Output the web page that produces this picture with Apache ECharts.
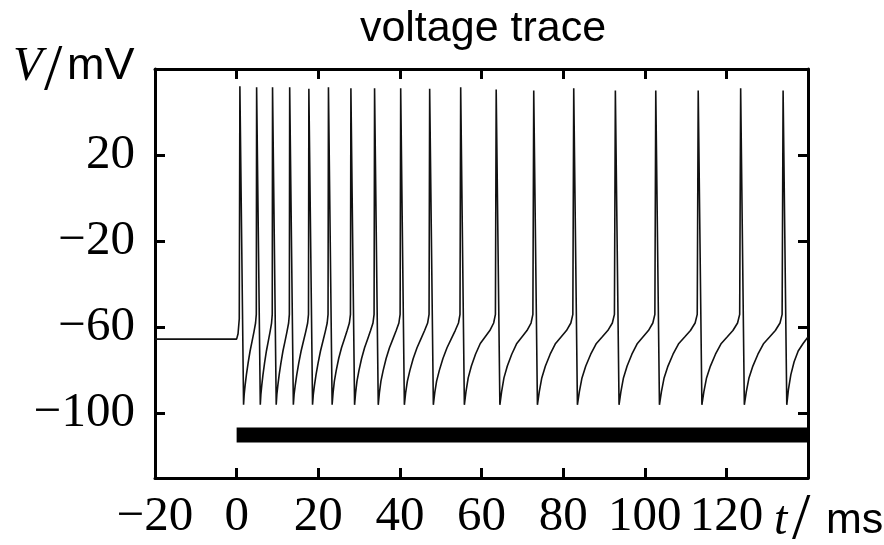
<!DOCTYPE html>
<html>
<head>
<meta charset="utf-8">
<script src="https://cdn.jsdelivr.net/npm/echarts@6/dist/echarts.min.js"></script>
<style>
html,body{margin:0;padding:0;background:#fff;}
#chart{width:884px;height:545px;}
</style>
</head>
<body>
<div id="chart"></div>
<script>
// time (ms) of each sampled point of the voltage trace
var time = [
  -20, 0, 0.35, 0.65,
  0.8, 1.7, 1.86, 2.08, 2.40, 2.82, 3.30, 3.78, 4.26, 4.64, 4.82,
  4.9, 5.8, 5.95, 6.16, 6.46, 6.85, 7.30, 7.75, 8.20, 8.56, 8.73,
  8.8, 9.7, 9.87, 10.10, 10.43, 10.86, 11.35, 11.85, 12.34, 12.74, 12.92,
  13.0, 13.9, 14.09, 14.36, 14.74, 15.23, 15.80, 16.37, 16.94, 17.40, 17.61,
  17.7, 18.6, 18.80, 19.07, 19.46, 19.97, 20.55, 21.14, 21.72, 22.19, 22.40,
  22.5, 23.4, 23.63, 23.95, 24.41, 25.01, 25.70, 26.39, 27.08, 27.63, 27.89,
  28.0, 28.9, 29.15, 29.49, 29.98, 30.62, 31.35, 32.09, 32.82, 33.41, 33.68,
  33.8, 34.7, 34.98, 35.36, 35.91, 36.63, 37.45, 38.28, 39.10, 39.76, 40.06,
  40.2, 41.1, 41.41, 41.84, 42.46, 43.27, 44.20, 45.13, 46.06, 46.80, 47.15,
  47.3, 48.2, 48.54, 49.00, 49.67, 50.55, 51.55, 52.56, 53.56, 54.36, 54.73,
  54.9, 55.8, 56.19, 56.74, 57.52, 58.53, 59.70, 60.87, 62.04, 62.98, 63.41,
  63.6, 64.5, 64.92, 65.50, 66.33, 67.41, 68.65, 69.90, 71.14, 72.14, 72.59,
  72.8, 73.7, 74.15, 74.77, 75.66, 76.82, 78.15, 79.49, 80.82, 81.89, 82.38,
  82.6, 83.5, 83.97, 84.62, 85.55, 86.76, 88.15, 89.55, 90.94, 92.06, 92.57,
  92.8, 93.7, 94.15, 94.78, 95.68, 96.85, 98.20, 99.55, 100.90, 101.98, 102.48,
  102.7, 103.6, 104.08, 104.74, 105.69, 106.93, 108.35, 109.78, 111.20, 112.34, 112.86,
  113.1, 114.0, 114.48, 115.14, 116.09, 117.33, 118.75, 120.18, 121.60, 122.74, 123.26,
  123.5, 124.4, 124.88, 125.54, 126.49, 127.73, 129.15, 130.58, 132.00, 133.14, 133.66,
  133.9, 134.8, 135.2, 135.8, 136.6, 137.6, 138.8, 140
];
// membrane voltage (mV) at each time above
var voltage = [
  -65.5, -65.5, -63, -56,
  52,   -96, -91, -87, -82, -76.5, -71, -66.5, -62, -58, -54,
  51.5, -96, -91, -87, -82, -76.5, -71, -66.5, -62, -58, -54,
  51.5, -96, -91, -87, -82, -76.5, -71, -66.5, -62, -58, -54,
  51.5, -96, -91, -87, -82, -76.5, -71, -66.5, -62, -58, -54,
  50.8, -96, -91, -87, -82, -76.5, -71, -66.5, -62, -58, -54,
  51.5, -96, -90.5, -85, -80, -74.5, -69.5, -65.5, -61.5, -58, -54,
  51,   -96, -90.5, -85, -80, -74.5, -69.5, -65.5, -61.5, -58, -54,
  51,   -96, -90.5, -85, -80, -74.5, -69.5, -65.5, -61.5, -58, -54,
  51,   -96, -90.5, -85, -80, -74.5, -69.5, -65.5, -61.5, -58, -54,
  50.8, -96, -90.5, -85, -80, -74.5, -69.5, -65.5, -61.5, -58, -54,
  51.5, -96, -90, -83.5, -78, -72.5, -67.5, -64.5, -61.5, -58, -54,
  50.5, -96, -90, -83.5, -78, -72.5, -67.5, -64.5, -61.5, -58, -54,
  50,   -96, -90, -83.5, -78, -72.5, -67.5, -64.5, -61.5, -58, -54,
  51,   -96, -90, -83.5, -78, -72.5, -67.5, -64.5, -61.5, -58, -54,
  50,   -96, -90, -83.5, -78, -72.5, -67.5, -64.5, -61.5, -58, -54,
  50,   -96, -90, -83.5, -78, -72.5, -67.5, -64.5, -61.5, -58, -54,
  50,   -96, -90, -83.5, -78, -72.5, -67.5, -64.5, -61.5, -58, -54,
  51,   -96, -90, -83.5, -78, -72.5, -67.5, -64.5, -61.5, -58, -54,
  50,   -96, -89, -82, -76, -71, -67.5, -64.5
];
// stimulus bar (current step) start/end time and drawing level
var stimulusTime = [0, 140];
var stimulusLevel = [-110, -110];
// axis ticks
var xTicks = [-20, 0, 20, 40, 60, 80, 100, 120];
var yTicks = [-100, -60, -20, 20];

var traceData = time.map(function (t, i) { return [t, voltage[i]]; });
var stimData = stimulusTime.map(function (t, i) { return [t, stimulusLevel[i]]; });

function fmt(v) { return v < 0 ? '\u2212' + (-v) : String(v); }

var serif = 'Liberation Serif';
var sans = 'Liberation Sans';
var lineCol = '#000';

var chart = echarts.init(document.getElementById('chart'), null, {renderer: 'canvas'});
chart.setOption({
  animation: false,
  backgroundColor: '#fff',
  title: {
    text: 'voltage trace',
    left: 483, top: 8, textAlign: 'center', padding: 0,
    textStyle: {fontFamily: sans, fontSize: 43, fontWeight: 'normal', color: '#000'}
  },
  grid: {left: 155, right: 76, top: 69, bottom: 67, containLabel: false},
  xAxis: [{
    type: 'value', min: -20, max: 140, interval: 20, position: 'bottom',
    axisLine: {show: true, onZero: false, lineStyle: {color: lineCol, width: 3}},
    axisTick: {show: true, inside: true, length: 10, lineStyle: {color: lineCol, width: 3}},
    axisLabel: {
      show: true, margin: 15, color: '#000', fontFamily: serif, fontSize: 49,
      showMaxLabel: false,
      formatter: function (v) { return xTicks.indexOf(v) >= 0 ? fmt(v) : ''; }
    },
    splitLine: {show: false}
  }, {
    type: 'value', min: -20, max: 140, interval: 20, position: 'top',
    axisLine: {show: true, onZero: false, lineStyle: {color: lineCol, width: 3}},
    axisTick: {show: true, inside: true, length: 10, lineStyle: {color: lineCol, width: 3}},
    axisLabel: {show: false},
    splitLine: {show: false}
  }],
  yAxis: [{
    type: 'value', min: -130, max: 60, position: 'left',
    axisLine: {show: true, onZero: false, lineStyle: {color: lineCol, width: 3}},
    axisTick: {show: true, inside: true, length: 10, customValues: yTicks, lineStyle: {color: lineCol, width: 3}},
    axisLabel: {show: true, margin: 20, customValues: yTicks, color: '#000', fontFamily: serif, fontSize: 49, formatter: fmt},
    splitLine: {show: false}
  }, {
    type: 'value', min: -130, max: 60, position: 'right',
    axisLine: {show: true, onZero: false, lineStyle: {color: lineCol, width: 3}},
    axisTick: {show: true, inside: true, length: 10, customValues: yTicks, lineStyle: {color: lineCol, width: 3}},
    axisLabel: {show: false},
    splitLine: {show: false}
  }],
  graphic: [
    {type: 'text', x: 13, y: 67, style: {text: 'V', fontFamily: serif, fontStyle: 'italic', fontSize: 48, fill: '#000', verticalAlign: 'middle', align: 'left'}},
    {type: 'text', x: 44, y: 72, style: {text: '/', fontFamily: serif, fontSize: 66, fill: '#000', verticalAlign: 'middle', align: 'left'}},
    {type: 'text', x: 67, y: 67, style: {text: 'mV', fontFamily: sans, fontSize: 45, fill: '#000', verticalAlign: 'middle', align: 'left'}},
    {type: 'text', x: 774, y: 521, style: {text: 't', fontFamily: serif, fontStyle: 'italic', fontSize: 48, fill: '#000', verticalAlign: 'middle', align: 'left'}},
    {type: 'text', x: 792, y: 521, style: {text: '/', fontFamily: serif, fontSize: 66, fill: '#000', verticalAlign: 'middle', align: 'left'}},
    {type: 'text', x: 826, y: 521, style: {text: 'ms', fontFamily: sans, fontSize: 43, fill: '#000', verticalAlign: 'middle', align: 'left'}}
  ],
  series: [{
    name: 'V', type: 'line', xAxisIndex: 0, yAxisIndex: 0,
    data: traceData, showSymbol: false, symbol: 'none', smooth: false,
    lineStyle: {color: '#111', width: 1.6}, silent: true
  }, {
    name: 'stimulus', type: 'line', xAxisIndex: 0, yAxisIndex: 0,
    data: stimData, showSymbol: false, symbol: 'none',
    lineStyle: {color: '#000', width: 15, cap: 'butt'}, silent: true
  }]
});
</script>
</body>
</html>
